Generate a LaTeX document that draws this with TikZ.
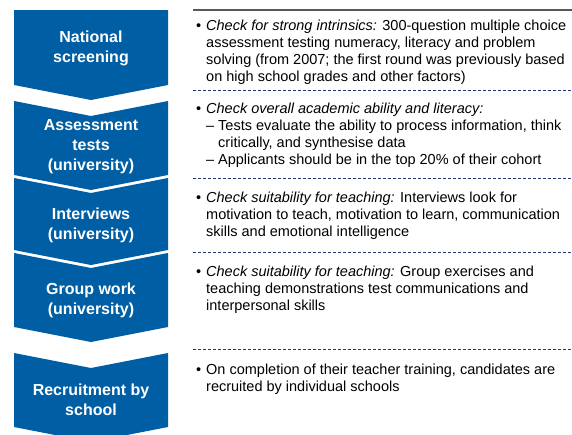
\documentclass[tikz,border=0pt]{standalone}
\usepackage{fontspec}
\setmainfont{Liberation Sans}
\usetikzlibrary{calc,positioning}
\definecolor{chevblue}{RGB}{0,94,164}
\definecolor{sepblue}{RGB}{35,55,115}
\tikzset{
  stage/.style={fill=chevblue},
  stagetxt/.style={text=white,font=\bfseries\fontsize{16}{20}\selectfont,align=center},
  desc/.style={anchor=north west,inner sep=0pt,align=left,font=\fontsize{14.5}{17}\selectfont},
  sepline/.style={sepblue,line width=1pt,dash pattern=on 3pt off 2pt}
}
\newcommand\itembul{\llap{\textbullet\hspace{5pt}}}
\newcommand\subdash{\makebox[12pt][l]{--}}

\begin{document}
\begin{tikzpicture}[x=1pt,y=-1pt]
\useasboundingbox (0,0) rectangle (572,434);
% chevrons on the left
\fill[stage] (14,10)--(168,10)--(168,85)--(91,100)--(14,85)--cycle;
\foreach \t/\b in {101/175,178/250,253/327,353/427}
    \fill[stage] (14,\t)--(91,\t+15)--(168,\t)--(168,\b)--(91,\b+15)--(14,\b)--cycle;
\node[stagetxt] (s1) at (91,48) {National\\screening};
\node[stagetxt] (s2) at (91,147) {Assessment\\tests\\(university)};
\node[stagetxt] (s3) at (91,225) {Interviews\\(university)};
\node[stagetxt] (s4) at (91,300) {Group work\\(university)};
\node[stagetxt] (s5) at (91,400) {Recruitment by\\school};
% separators
\draw[black!65,line width=1.2pt] (193,10)--(572,10);
\foreach \y in {90,178,252,349} \draw[sepline] (193,\y)--(572,\y);
% descriptions
\node[desc] (d1) at (206,19.5) {\itembul\textit{Check for strong intrinsics:} 300-question multiple choice\\
    assessment testing numeracy, literacy and problem\\
    solving (from 2007; the first round was previously based\\
    on high school grades and other factors)};
\node[desc] (d2) at (206,102.5) {\itembul\textit{Check overall academic ability and literacy:}\\
    \subdash Tests evaluate the ability to process information, think\\
    \hspace*{12pt}critically, and synthesise data\\
    \subdash Applicants should be in the top 20\% of their cohort};
\node[desc] (d3) at (206,191.5) {\itembul\textit{Check suitability for teaching:} Interviews look for\\
    motivation to teach, motivation to learn, communication\\
    skills and emotional intelligence};
\node[desc] (d4) at (206,265.5) {\itembul\textit{Check suitability for teaching:} Group exercises and\\
    teaching demonstrations test communications and\\
    interpersonal skills};
\node[desc] (d5) at (206,363.5) {\itembul On completion of their teacher training, candidates are\\
    recruited by individual schools};
\end{tikzpicture}
\end{document}
